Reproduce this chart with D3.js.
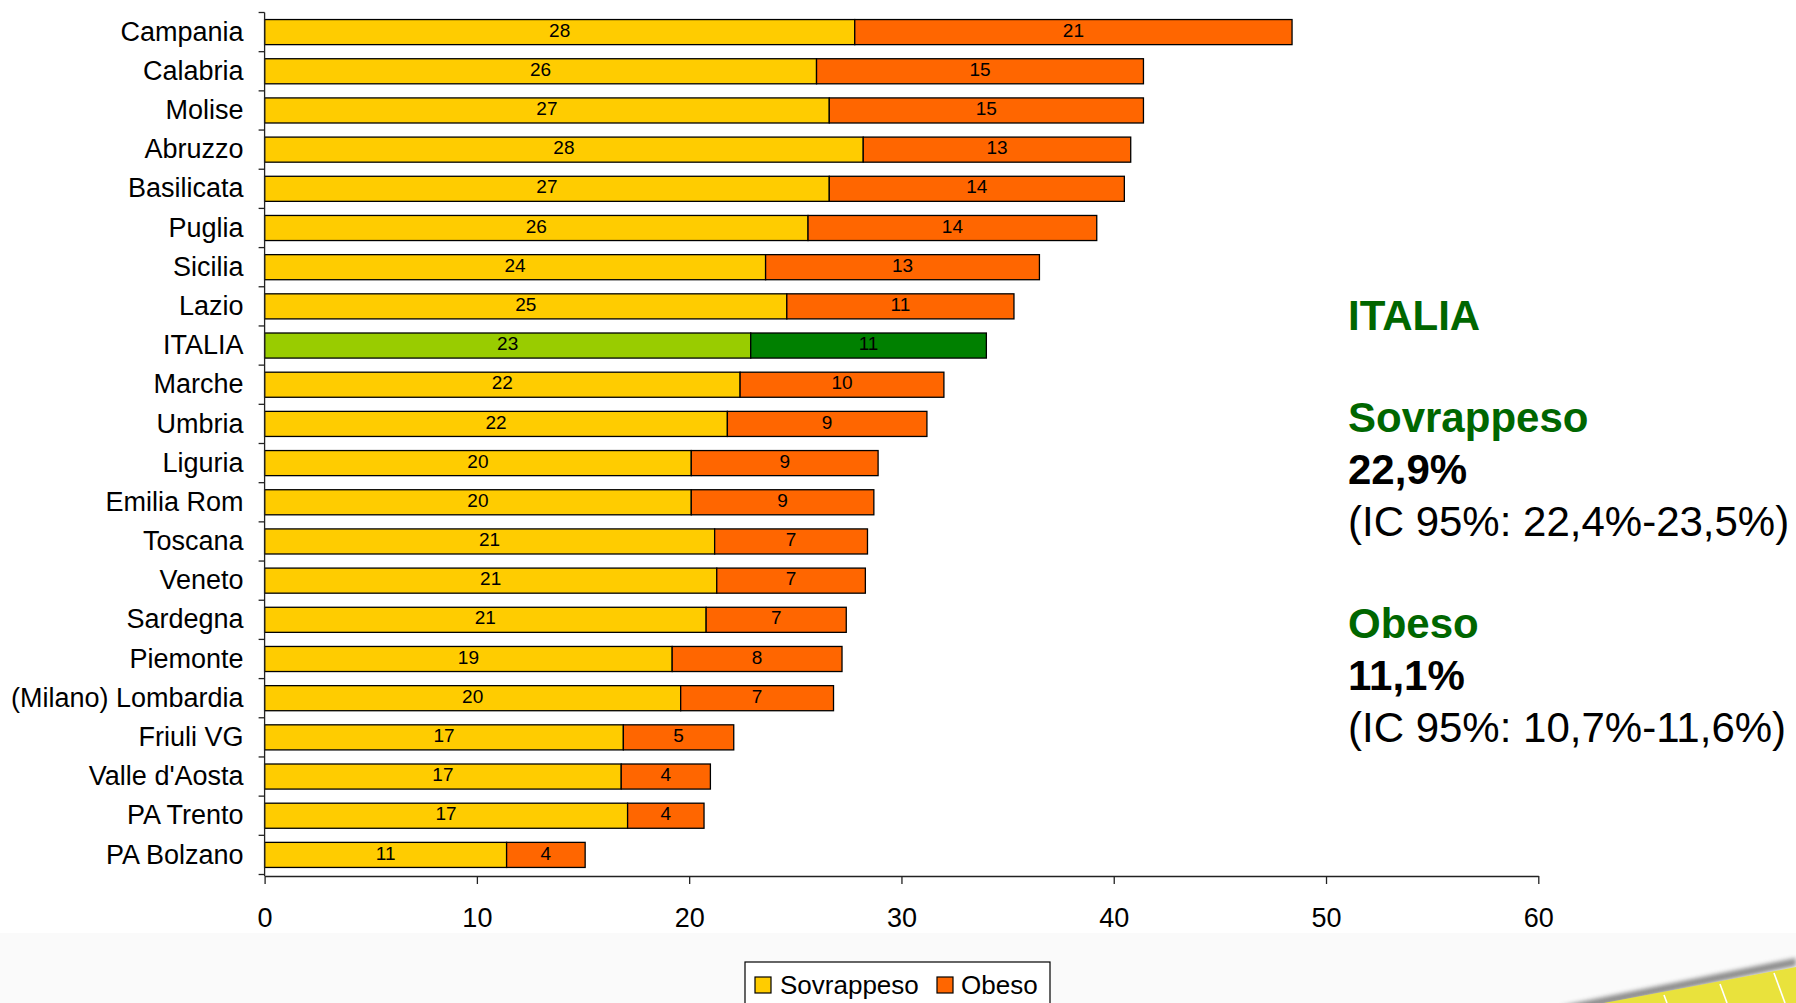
<!DOCTYPE html>
<html>
<head>
<meta charset="utf-8">
<script src="https://cdn.jsdelivr.net/npm/d3@7"></script>
<style>
  body { margin: 0; background: #fff; }
  text { font-family: "Liberation Sans", Arial, sans-serif; }
</style>
</head>
<body>
<svg id="chart" width="1796" height="1003"></svg>
<script>
// Regioni, ordinate per prevalenza complessiva di eccesso ponderale (%)
const regions = [
  "Campania", "Calabria", "Molise", "Abruzzo", "Basilicata", "Puglia", "Sicilia",
  "Lazio", "ITALIA", "Marche", "Umbria", "Liguria", "Emilia Rom", "Toscana",
  "Veneto", "Sardegna", "Piemonte", "(Milano) Lombardia", "Friuli VG",
  "Valle d'Aosta", "PA Trento", "PA Bolzano"
];
const sovrappeso = [27.8, 26.0, 26.6, 28.2, 26.6, 25.6, 23.6, 24.6, 22.9, 22.4, 21.8,
                    20.1, 20.1, 21.2, 21.3, 20.8, 19.2, 19.6, 16.9, 16.8, 17.1, 11.4];
const obeso = [20.6, 15.4, 14.8, 12.6, 13.9, 13.6, 12.9, 10.7, 11.1, 9.6, 9.4,
               8.8, 8.6, 7.2, 7.0, 6.6, 8.0, 7.2, 5.2, 4.2, 3.6, 3.7];
const seriesKeys = ["Sovrappeso", "Obeso"];
const xTicks = [0, 10, 20, 30, 40, 50, 60];

// Riquadro di sintesi nazionale
const summaryLines = [
  { text: "ITALIA", kind: "head" },
  { text: "", kind: "gap" },
  { text: "Sovrappeso", kind: "head" },
  { text: "22,9%", kind: "value" },
  { text: "(IC 95%: 22,4%-23,5%)", kind: "ci" },
  { text: "", kind: "gap" },
  { text: "Obeso", kind: "head" },
  { text: "11,1%", kind: "value" },
  { text: "(IC 95%: 10,7%-11,6%)", kind: "ci" }
];

const W = 1796, H = 1003;
const svg = d3.select("#chart");

const colors = { Sovrappeso: "#FFCC00", Obeso: "#FF6600" };
const italiaColors = { Sovrappeso: "#99CC00", Obeso: "#008000" };

// Sfondo
svg.append("rect").attr("width", W).attr("height", H).attr("fill", "#ffffff");
svg.append("rect").attr("y", 933).attr("width", W).attr("height", H - 933).attr("fill", "#fafafa");

// Scale
const x = d3.scaleLinear().domain([0, 60]).range([264.6, 1538.3]);
const y = d3.scaleBand().domain(regions).range([12.5, 874.5])
  .paddingInner(0.36).paddingOuter(0.18);

const rows = regions.map((r, i) => ({ region: r, Sovrappeso: sovrappeso[i], Obeso: obeso[i] }));
const stacked = d3.stack().keys(seriesKeys)(rows);

// Barre impilate
const layers = svg.append("g").selectAll("g").data(stacked).join("g");
layers.selectAll("rect")
  .data(d => d.map(s => ({ key: d.key, s })))
  .join("rect")
  .attr("x", d => x(d.s[0]))
  .attr("y", d => y(d.s.data.region))
  .attr("width", d => x(d.s[1]) - x(d.s[0]))
  .attr("height", y.bandwidth())
  .attr("fill", d => (d.s.data.region === "ITALIA" ? italiaColors : colors)[d.key])
  .attr("stroke", "#000")
  .attr("stroke-width", 1.3);

// Etichette dei valori
const fmt = d3.format(".0f");
layers.selectAll("text")
  .data(d => d.map(s => ({ key: d.key, s })))
  .join("text")
  .attr("x", d => (x(d.s[0]) + x(d.s[1])) / 2)
  .attr("y", d => y(d.s.data.region) + y.bandwidth() / 2 - 2)
  .attr("dy", "0.35em")
  .attr("text-anchor", "middle")
  .attr("font-size", 19)
  .attr("fill", "#000")
  .text(d => fmt(d.s[1] - d.s[0]));

// Asse Y con tacche ai confini tra le categorie
const yAxis = svg.append("g").attr("transform", `translate(${x(0)},0)`)
  .call(d3.axisLeft(y).tickSize(0).tickPadding(21).tickSizeOuter(0));
yAxis.select(".domain").attr("stroke", "#222").attr("stroke-width", 1.3)
  .attr("d", `M0,${y.range()[0]}V876`);
yAxis.selectAll("text").attr("font-size", 27).attr("fill", "#000")
  .attr("font-family", "'Liberation Sans', Arial, sans-serif");
const step = y.step();
const boundaries = d3.range(regions.length + 1).map(i => y.range()[0] + i * step);
svg.append("g").selectAll("line").data(boundaries).join("line")
  .attr("x1", x(0) - 6).attr("x2", x(0))
  .attr("y1", d => d).attr("y2", d => d)
  .attr("stroke", "#222").attr("stroke-width", 1.3);

// Asse X
const xAxis = svg.append("g").attr("transform", "translate(0,876)")
  .call(d3.axisBottom(x).tickValues(xTicks).tickSize(8).tickSizeOuter(0).tickPadding(24));
xAxis.select(".domain").attr("stroke", "#222").attr("stroke-width", 1.3);
xAxis.selectAll(".tick line").attr("stroke", "#222").attr("stroke-width", 1.3);
xAxis.selectAll("text").attr("font-size", 27).attr("fill", "#000")
  .attr("font-family", "'Liberation Sans', Arial, sans-serif");

// Testo di sintesi a destra
let ty = 330;
const summary = svg.append("g");
summaryLines.forEach((l, i) => {
  if (i > 0) ty += (l.kind === "gap" || summaryLines[i - 1].kind === "gap") ? 51 : 52;
  if (l.kind === "gap") return;
  summary.append("text")
    .attr("x", 1348).attr("y", ty)
    .attr("font-size", 42)
    .attr("font-weight", l.kind === "ci" ? "normal" : "bold")
    .attr("fill", l.kind === "head" ? "#006600" : "#000")
    .text(l.text);
});

// Legenda
const legend = svg.append("g");
legend.append("rect").attr("x", 745).attr("y", 962).attr("width", 305).attr("height", 60)
  .attr("fill", "#fff").attr("stroke", "#000").attr("stroke-width", 1.2);
const legendItems = [
  { key: "Sovrappeso", sx: 755, tx: 780 },
  { key: "Obeso", sx: 937, tx: 961 }
];
legendItems.forEach(it => {
  legend.append("rect").attr("x", it.sx).attr("y", 977).attr("width", 16).attr("height", 16)
    .attr("fill", colors[it.key]).attr("stroke", "#000").attr("stroke-width", 1.2);
  legend.append("text").attr("x", it.tx).attr("y", 994).attr("font-size", 26)
    .attr("fill", "#000").text(it.key);
});

// Fascia decorativa in basso a destra
const defs = svg.append("defs");
defs.append("filter").attr("id", "soft").attr("x", "-10%").attr("y", "-50%")
  .attr("width", "120%").attr("height", "200%")
  .append("feGaussianBlur").attr("stdDeviation", 2.2);
const deco = svg.append("g");
deco.append("path")
  .attr("d", "M1560,1006 L1796,958 L1796,966 L1590,1008 Z")
  .attr("fill", "#6b6b6b").attr("opacity", 0.75).attr("filter", "url(#soft)");
deco.append("path")
  .attr("d", "M1604,1003 L1796,967 L1796,1003 Z")
  .attr("fill", "#e9e23c");
[[1664, 995, 1667, 1003], [1720, 984, 1727, 1003], [1774, 973, 1785, 1003]].forEach(s => {
  deco.append("line").attr("x1", s[0]).attr("y1", s[1]).attr("x2", s[2]).attr("y2", s[3])
    .attr("stroke", "#ffffff").attr("stroke-width", 1.6);
});
</script>
</body>
</html>
